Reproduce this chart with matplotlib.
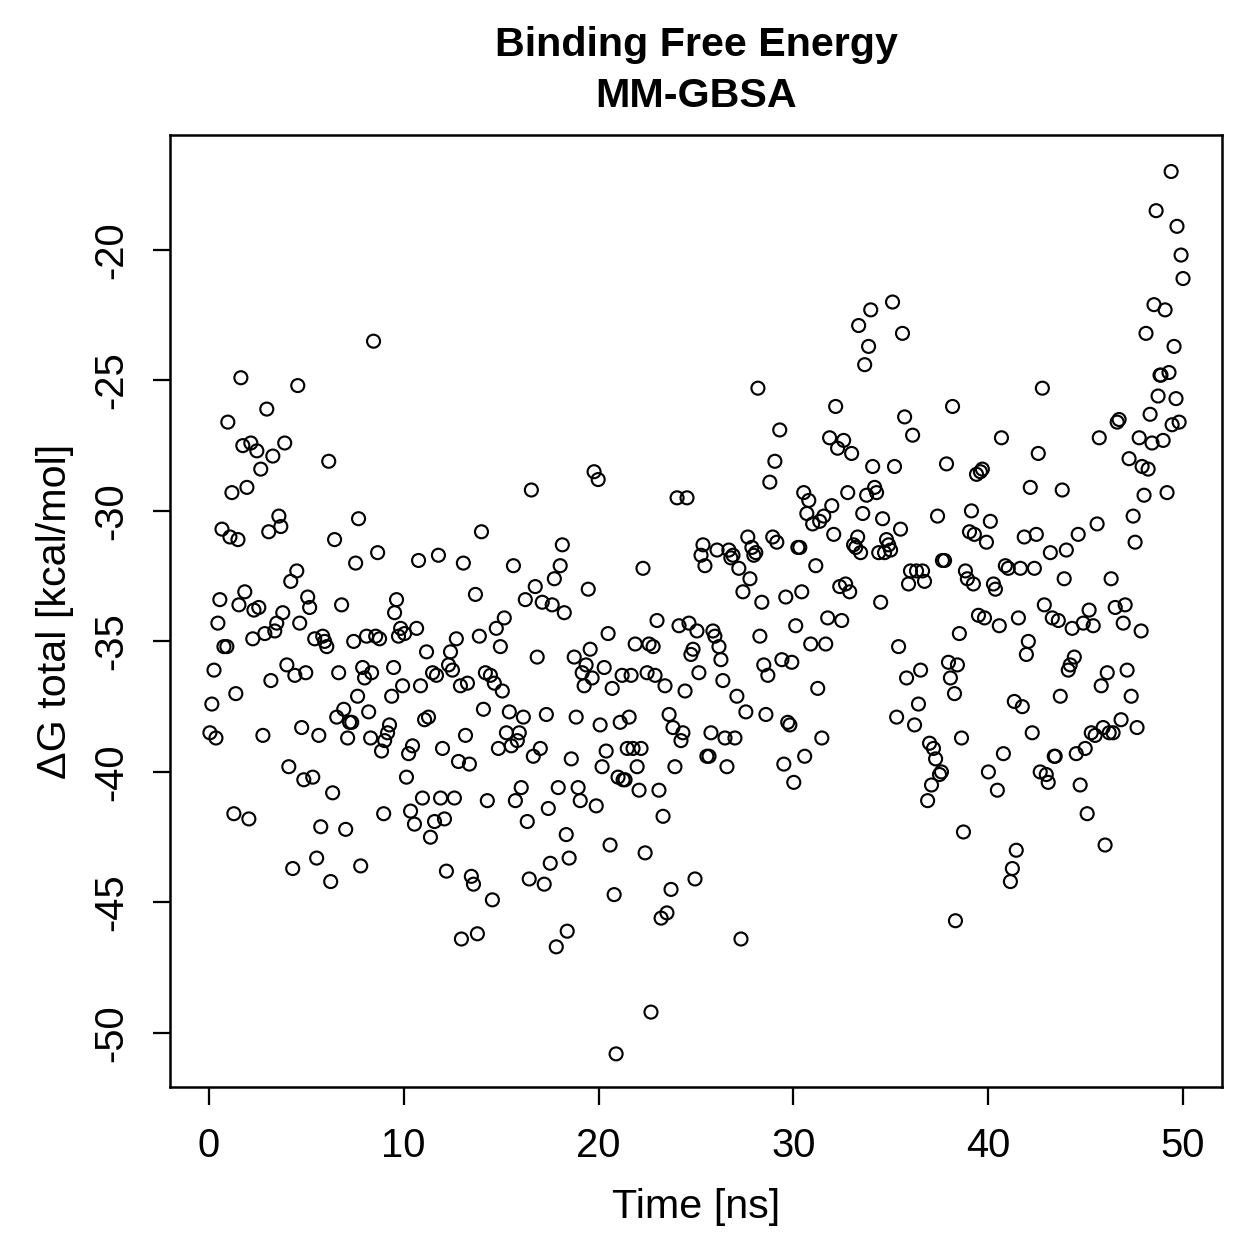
import numpy as np
import matplotlib
matplotlib.use("Agg")
import matplotlib.pyplot as plt

plt.rcParams['font.family'] = ['Liberation Sans', 'DejaVu Sans']
plt.rcParams['axes.unicode_minus'] = False

# время (нс)
time_ns = [
    0.05, 0.15, 0.26, 0.36, 0.46, 0.56, 0.67, 0.77, 0.92, 0.97,
    1.08, 1.18, 1.28, 1.38, 1.49, 1.54, 1.64, 1.74, 1.84, 1.95,
    2.05, 2.15, 2.25, 2.31, 2.46, 2.56, 2.66, 2.77, 2.87, 2.97,
    3.07, 3.18, 3.28, 3.38, 3.48, 3.59, 3.69, 3.79, 3.89, 4.00,
    4.10, 4.20, 4.30, 4.41, 4.51, 4.56, 4.66, 4.76, 4.87, 4.97,
    5.07, 5.17, 5.33, 5.43, 5.53, 5.64, 5.74, 5.84, 5.94, 6.05,
    6.15, 6.25, 6.35, 6.45, 6.56, 6.66, 6.81, 6.92, 7.02, 7.12,
    7.22, 7.33, 7.43, 7.53, 7.63, 7.68, 7.79, 7.89, 7.99, 8.09,
    8.20, 8.30, 8.35, 8.45, 8.56, 8.66, 8.76, 8.86, 8.97, 9.02,
    9.17, 9.27, 9.38, 9.48, 9.53, 9.63, 9.73, 9.84, 9.94, 10.04,
    10.14, 10.25, 10.35, 10.45, 10.55, 10.66, 10.76, 10.86, 10.96, 11.07,
    11.17, 11.27, 11.37, 11.48, 11.58, 11.68, 11.78, 11.89, 11.99, 12.09,
    12.19, 12.30, 12.40, 12.50, 12.60, 12.70, 12.81, 12.91, 12.96, 13.06,
    13.17, 13.27, 13.37, 13.47, 13.58, 13.68, 13.78, 13.88, 13.99, 14.09,
    14.19, 14.29, 14.45, 14.55, 14.65, 14.75, 14.86, 14.96, 15.06, 15.16,
    15.27, 15.42, 15.52, 15.63, 15.73, 15.83, 15.93, 16.03, 16.14, 16.24,
    16.34, 16.44, 16.55, 16.65, 16.75, 16.85, 17.01, 17.11, 17.21, 17.32,
    17.42, 17.52, 17.62, 17.73, 17.83, 17.93, 18.03, 18.14, 18.24, 18.34,
    18.39, 18.49, 18.60, 18.75, 18.85, 18.95, 19.06, 19.16, 19.26, 19.36,
    19.47, 19.57, 19.67, 19.77, 19.88, 19.98, 20.08, 20.18, 20.29, 20.39,
    20.49, 20.59, 20.70, 20.80, 20.90, 21.00, 21.11, 21.21, 21.26, 21.36,
    21.47, 21.57, 21.67, 21.77, 21.88, 21.98, 22.08, 22.18, 22.28, 22.39,
    22.49, 22.59, 22.69, 22.80, 22.90, 23.00, 23.10, 23.21, 23.31, 23.41,
    23.51, 23.62, 23.72, 23.82, 23.92, 24.03, 24.13, 24.23, 24.33, 24.44,
    24.54, 24.64, 24.74, 24.85, 24.95, 25.05, 25.15, 25.26, 25.36, 25.46,
    25.56, 25.67, 25.77, 25.87, 25.97, 26.08, 26.18, 26.28, 26.38, 26.49,
    26.59, 26.69, 26.79, 26.90, 27.00, 27.10, 27.20, 27.31, 27.41, 27.56,
    27.66, 27.77, 27.87, 27.97, 28.07, 28.18, 28.28, 28.38, 28.48, 28.59,
    28.69, 28.79, 28.94, 29.05, 29.15, 29.30, 29.41, 29.51, 29.61, 29.71,
    29.82, 29.92, 30.02, 30.12, 30.23, 30.33, 30.43, 30.53, 30.58, 30.69,
    30.79, 30.89, 30.99, 31.15, 31.25, 31.35, 31.46, 31.56, 31.66, 31.76,
    31.86, 31.97, 32.07, 32.17, 32.27, 32.38, 32.48, 32.58, 32.68, 32.79,
    32.89, 32.99, 33.09, 33.20, 33.30, 33.35, 33.45, 33.56, 33.66, 33.76,
    33.86, 33.97, 34.07, 34.17, 34.27, 34.38, 34.48, 34.58, 34.68, 34.78,
    34.89, 34.99, 35.09, 35.19, 35.30, 35.40, 35.50, 35.60, 35.71, 35.81,
    35.91, 36.01, 36.12, 36.22, 36.32, 36.42, 36.53, 36.63, 36.73, 36.89,
    36.99, 37.09, 37.19, 37.30, 37.40, 37.50, 37.60, 37.65, 37.76, 37.86,
    37.96, 38.06, 38.17, 38.27, 38.32, 38.42, 38.52, 38.63, 38.73, 38.83,
    38.93, 39.04, 39.14, 39.24, 39.29, 39.40, 39.50, 39.60, 39.70, 39.81,
    39.91, 40.01, 40.11, 40.27, 40.37, 40.47, 40.57, 40.68, 40.78, 40.88,
    41.03, 41.14, 41.24, 41.34, 41.44, 41.55, 41.65, 41.75, 41.85, 41.96,
    42.06, 42.16, 42.26, 42.37, 42.47, 42.57, 42.67, 42.78, 42.88, 42.98,
    43.08, 43.19, 43.29, 43.39, 43.44, 43.60, 43.70, 43.80, 43.90, 44.01,
    44.11, 44.21, 44.31, 44.42, 44.52, 44.62, 44.72, 44.88, 44.98, 45.08,
    45.18, 45.29, 45.39, 45.49, 45.59, 45.70, 45.80, 45.90, 46.00, 46.11,
    46.21, 46.31, 46.41, 46.52, 46.62, 46.72, 46.82, 46.93, 47.03, 47.13,
    47.23, 47.34, 47.44, 47.54, 47.64, 47.75, 47.85, 47.90, 48.00, 48.10,
    48.21, 48.31, 48.41, 48.51, 48.62, 48.72, 48.82, 48.87, 48.98, 49.08,
    49.18, 49.28, 49.39, 49.44, 49.54, 49.64, 49.69, 49.80, 49.90, 50.00,
]

# ΔG total (ккал/моль)
dG_total = [
    -38.5, -37.4, -36.1, -38.7, -34.3, -33.4, -30.7, -35.2, -35.2, -26.6,
    -31.0, -29.3, -41.6, -37.0, -31.1, -33.6, -24.9, -27.5, -33.1, -29.1,
    -41.8, -27.4, -34.9, -33.8, -27.7, -33.7, -28.4, -38.6, -34.7, -26.1,
    -30.8, -36.5, -27.9, -34.6, -34.3, -30.2, -30.6, -33.9, -27.4, -35.9,
    -39.8, -32.7, -43.7, -36.3, -32.3, -25.2, -34.3, -38.3, -40.3, -36.2,
    -33.3, -33.7, -40.2, -34.9, -43.3, -38.6, -42.1, -34.8, -35.0, -35.2,
    -28.1, -44.2, -40.8, -31.1, -37.9, -36.2, -33.6, -37.6, -42.2, -38.7,
    -38.1, -38.1, -35.0, -32.0, -37.1, -30.3, -43.6, -36.0, -36.4, -34.8,
    -37.7, -38.7, -36.2, -23.5, -34.8, -31.6, -34.9, -39.2, -41.6, -38.8,
    -38.5, -38.2, -37.1, -36.0, -33.9, -33.4, -34.8, -34.5, -36.7, -34.7,
    -40.2, -39.3, -41.5, -39.0, -42.0, -34.5, -31.9, -36.7, -41.0, -38.0,
    -35.4, -37.9, -42.5, -36.2, -41.9, -36.3, -31.7, -41.0, -39.1, -41.8,
    -43.8, -35.9, -35.4, -36.1, -41.0, -34.9, -39.6, -36.7, -46.4, -32.0,
    -38.6, -36.6, -39.7, -44.0, -44.3, -33.2, -46.2, -34.8, -30.8, -37.6,
    -36.2, -41.1, -36.3, -44.9, -36.6, -34.5, -39.1, -35.2, -36.9, -34.1,
    -38.5, -37.7, -39.0, -32.1, -41.1, -38.8, -38.5, -40.6, -37.9, -33.4,
    -41.9, -44.1, -29.2, -39.4, -32.9, -35.6, -39.1, -33.5, -44.3, -37.8,
    -41.4, -43.5, -33.6, -32.6, -46.7, -40.6, -32.1, -31.3, -33.9, -42.4,
    -46.1, -43.3, -39.5, -35.6, -37.9, -40.6, -41.1, -36.2, -36.7, -35.9,
    -33.0, -35.3, -36.4, -28.5, -41.3, -28.8, -38.2, -39.8, -36.0, -39.2,
    -34.7, -42.8, -36.8, -44.7, -50.8, -40.2, -38.1, -36.3, -40.3, -40.3,
    -39.1, -37.9, -36.3, -39.1, -35.1, -39.8, -40.7, -39.1, -32.2, -43.1,
    -36.2, -35.1, -49.2, -35.2, -36.3, -34.2, -40.7, -45.6, -41.7, -36.7,
    -45.4, -37.8, -44.5, -38.3, -39.8, -29.5, -34.4, -38.8, -38.5, -36.9,
    -29.5, -34.3, -35.5, -35.3, -44.1, -34.6, -36.2, -31.7, -31.3, -32.1,
    -39.4, -39.4, -38.5, -34.6, -34.8, -31.5, -35.2, -35.7, -36.5, -38.7,
    -39.8, -31.5, -31.8, -31.7, -38.7, -37.1, -32.2, -46.4, -33.1, -37.7,
    -31.0, -32.6, -31.4, -31.7, -31.6, -25.3, -34.8, -33.5, -35.9, -37.8,
    -36.3, -28.9, -31.0, -28.1, -31.2, -26.9, -35.7, -39.7, -33.3, -38.1,
    -38.2, -35.8, -40.4, -34.4, -31.4, -31.4, -33.1, -29.3, -39.4, -30.1,
    -29.6, -35.1, -30.5, -32.1, -36.8, -30.4, -38.7, -30.2, -35.1, -34.1,
    -27.2, -29.8, -30.9, -26.0, -27.6, -32.9, -34.2, -27.3, -32.8, -29.3,
    -33.1, -27.8, -31.3, -31.4, -31.0, -22.9, -31.6, -30.1, -24.4, -29.4,
    -23.7, -22.3, -28.3, -29.1, -29.3, -31.6, -33.5, -30.3, -31.6, -31.1,
    -31.3, -31.5, -22.0, -28.3, -37.9, -35.2, -30.7, -23.2, -26.4, -36.4,
    -32.8, -32.3, -27.1, -38.2, -32.3, -37.4, -36.1, -32.3, -32.7, -41.1,
    -38.9, -40.5, -39.1, -39.5, -30.2, -40.1, -40.0, -31.9, -31.9, -28.2,
    -35.8, -36.4, -26.0, -37.0, -45.7, -35.9, -34.7, -38.7, -42.3, -32.3,
    -32.6, -30.8, -30.0, -32.8, -30.9, -28.6, -34.0, -28.5, -28.4, -34.1,
    -31.2, -40.0, -30.4, -32.8, -33.0, -40.7, -34.4, -27.2, -39.3, -32.1,
    -32.2, -44.2, -43.7, -37.3, -43.0, -34.1, -32.2, -37.5, -31.0, -35.5,
    -35.0, -29.1, -38.5, -32.2, -30.9, -27.8, -40.0, -25.3, -33.6, -40.1,
    -40.4, -31.6, -34.1, -39.4, -39.4, -34.2, -37.1, -29.2, -32.6, -31.5,
    -36.1, -35.9, -34.5, -35.6, -39.3, -30.9, -40.5, -34.3, -39.1, -41.6,
    -33.8, -38.5, -34.4, -38.6, -30.5, -27.2, -36.7, -38.3, -42.8, -36.2,
    -38.5, -32.6, -38.5, -33.7, -26.6, -26.5, -38.0, -34.3, -33.6, -36.1,
    -28.0, -37.1, -30.2, -31.2, -38.3, -27.2, -34.6, -28.3, -29.4, -23.2,
    -28.4, -26.3, -27.4, -22.1, -18.5, -25.6, -24.8, -24.8, -27.3, -22.3,
    -29.3, -24.7, -17.0, -26.7, -23.7, -25.7, -19.1, -26.6, -20.2, -21.1,
]

x_ticks = [0, 10, 20, 30, 40, 50]
y_ticks = [-50, -45, -40, -35, -30, -25, -20]

fig = plt.figure(figsize=(1259 / 180, 1259 / 180), dpi=180)
ax = fig.add_axes([0.135, 0.1366, 0.8356, 0.7562])

ax.scatter(time_ns, dG_total, s=27, facecolors='none', edgecolors='black', linewidths=0.85)

ax.set_xlim(-2, 52)
ax.set_ylim(-52.07, -15.6)
ax.set_xticks(x_ticks)
ax.set_yticks(y_ticks)
ax.set_yticklabels([str(v) for v in y_ticks], rotation=90, va='center')
ax.tick_params(direction='out', length=7, width=0.9, labelsize=16, pad=9)
for sp in ax.spines.values():
    sp.set_linewidth(1.0)

ax.set_xlabel('Time [ns]', fontsize=16.5, labelpad=9)
ax.set_ylabel('ΔG total [kcal/mol]', fontsize=16.5, labelpad=7)

fig.text(0.553, 0.964, 'Binding Free Energy', ha='center', va='center',
         fontsize=16.5, fontweight='bold')
fig.text(0.553, 0.924, 'MM-GBSA', ha='center', va='center',
         fontsize=16.5, fontweight='bold')

fig.savefig('out.png', dpi=180)
